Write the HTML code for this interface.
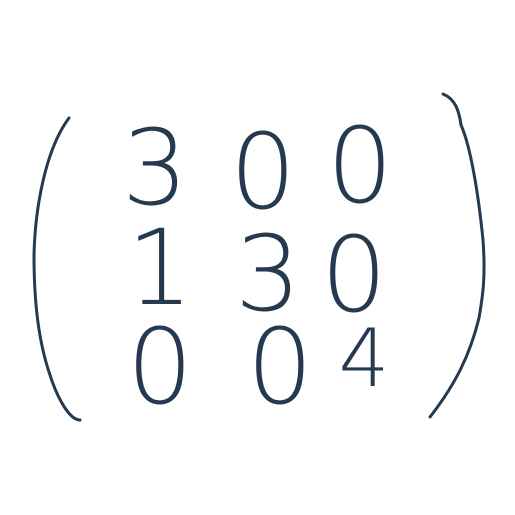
<!DOCTYPE html>
<html><head><meta charset="utf-8"><style>
html,body{margin:0;padding:0;background:#fff;width:515px;height:515px;overflow:hidden}
</style></head><body>
<svg width="515" height="515" viewBox="0 0 515 515">
<g fill="none" stroke="#253a4f" stroke-width="3" stroke-linecap="round" stroke-linejoin="round">
<path d="M69,118 C45,150 35,210 34,255 C34,300 38,340 50,375 C58,400 70,420 80,420"/>
<path d="M443,94 C455,99 459,110 461,125 C470,145 478,190 483,240 C486,280 482,300 479,318 C470,355 455,385 430,417"/>
</g>
<g fill="#253a4f" font-family="DejaVu Sans, Liberation Sans, sans-serif" font-size="104" font-weight="200" text-anchor="middle">
<text x="155" y="204">3</text>
<text x="263" y="208">0</text>
<text x="360" y="202">0</text>
<text x="160" y="304">1</text>
<text x="268" y="310">3</text>
<text x="354" y="311">0</text>
<text x="160" y="403">0</text>
<text x="280" y="403">0</text>
<text x="364" y="386" font-size="80">4</text>
</g>
</svg>
</body></html>
